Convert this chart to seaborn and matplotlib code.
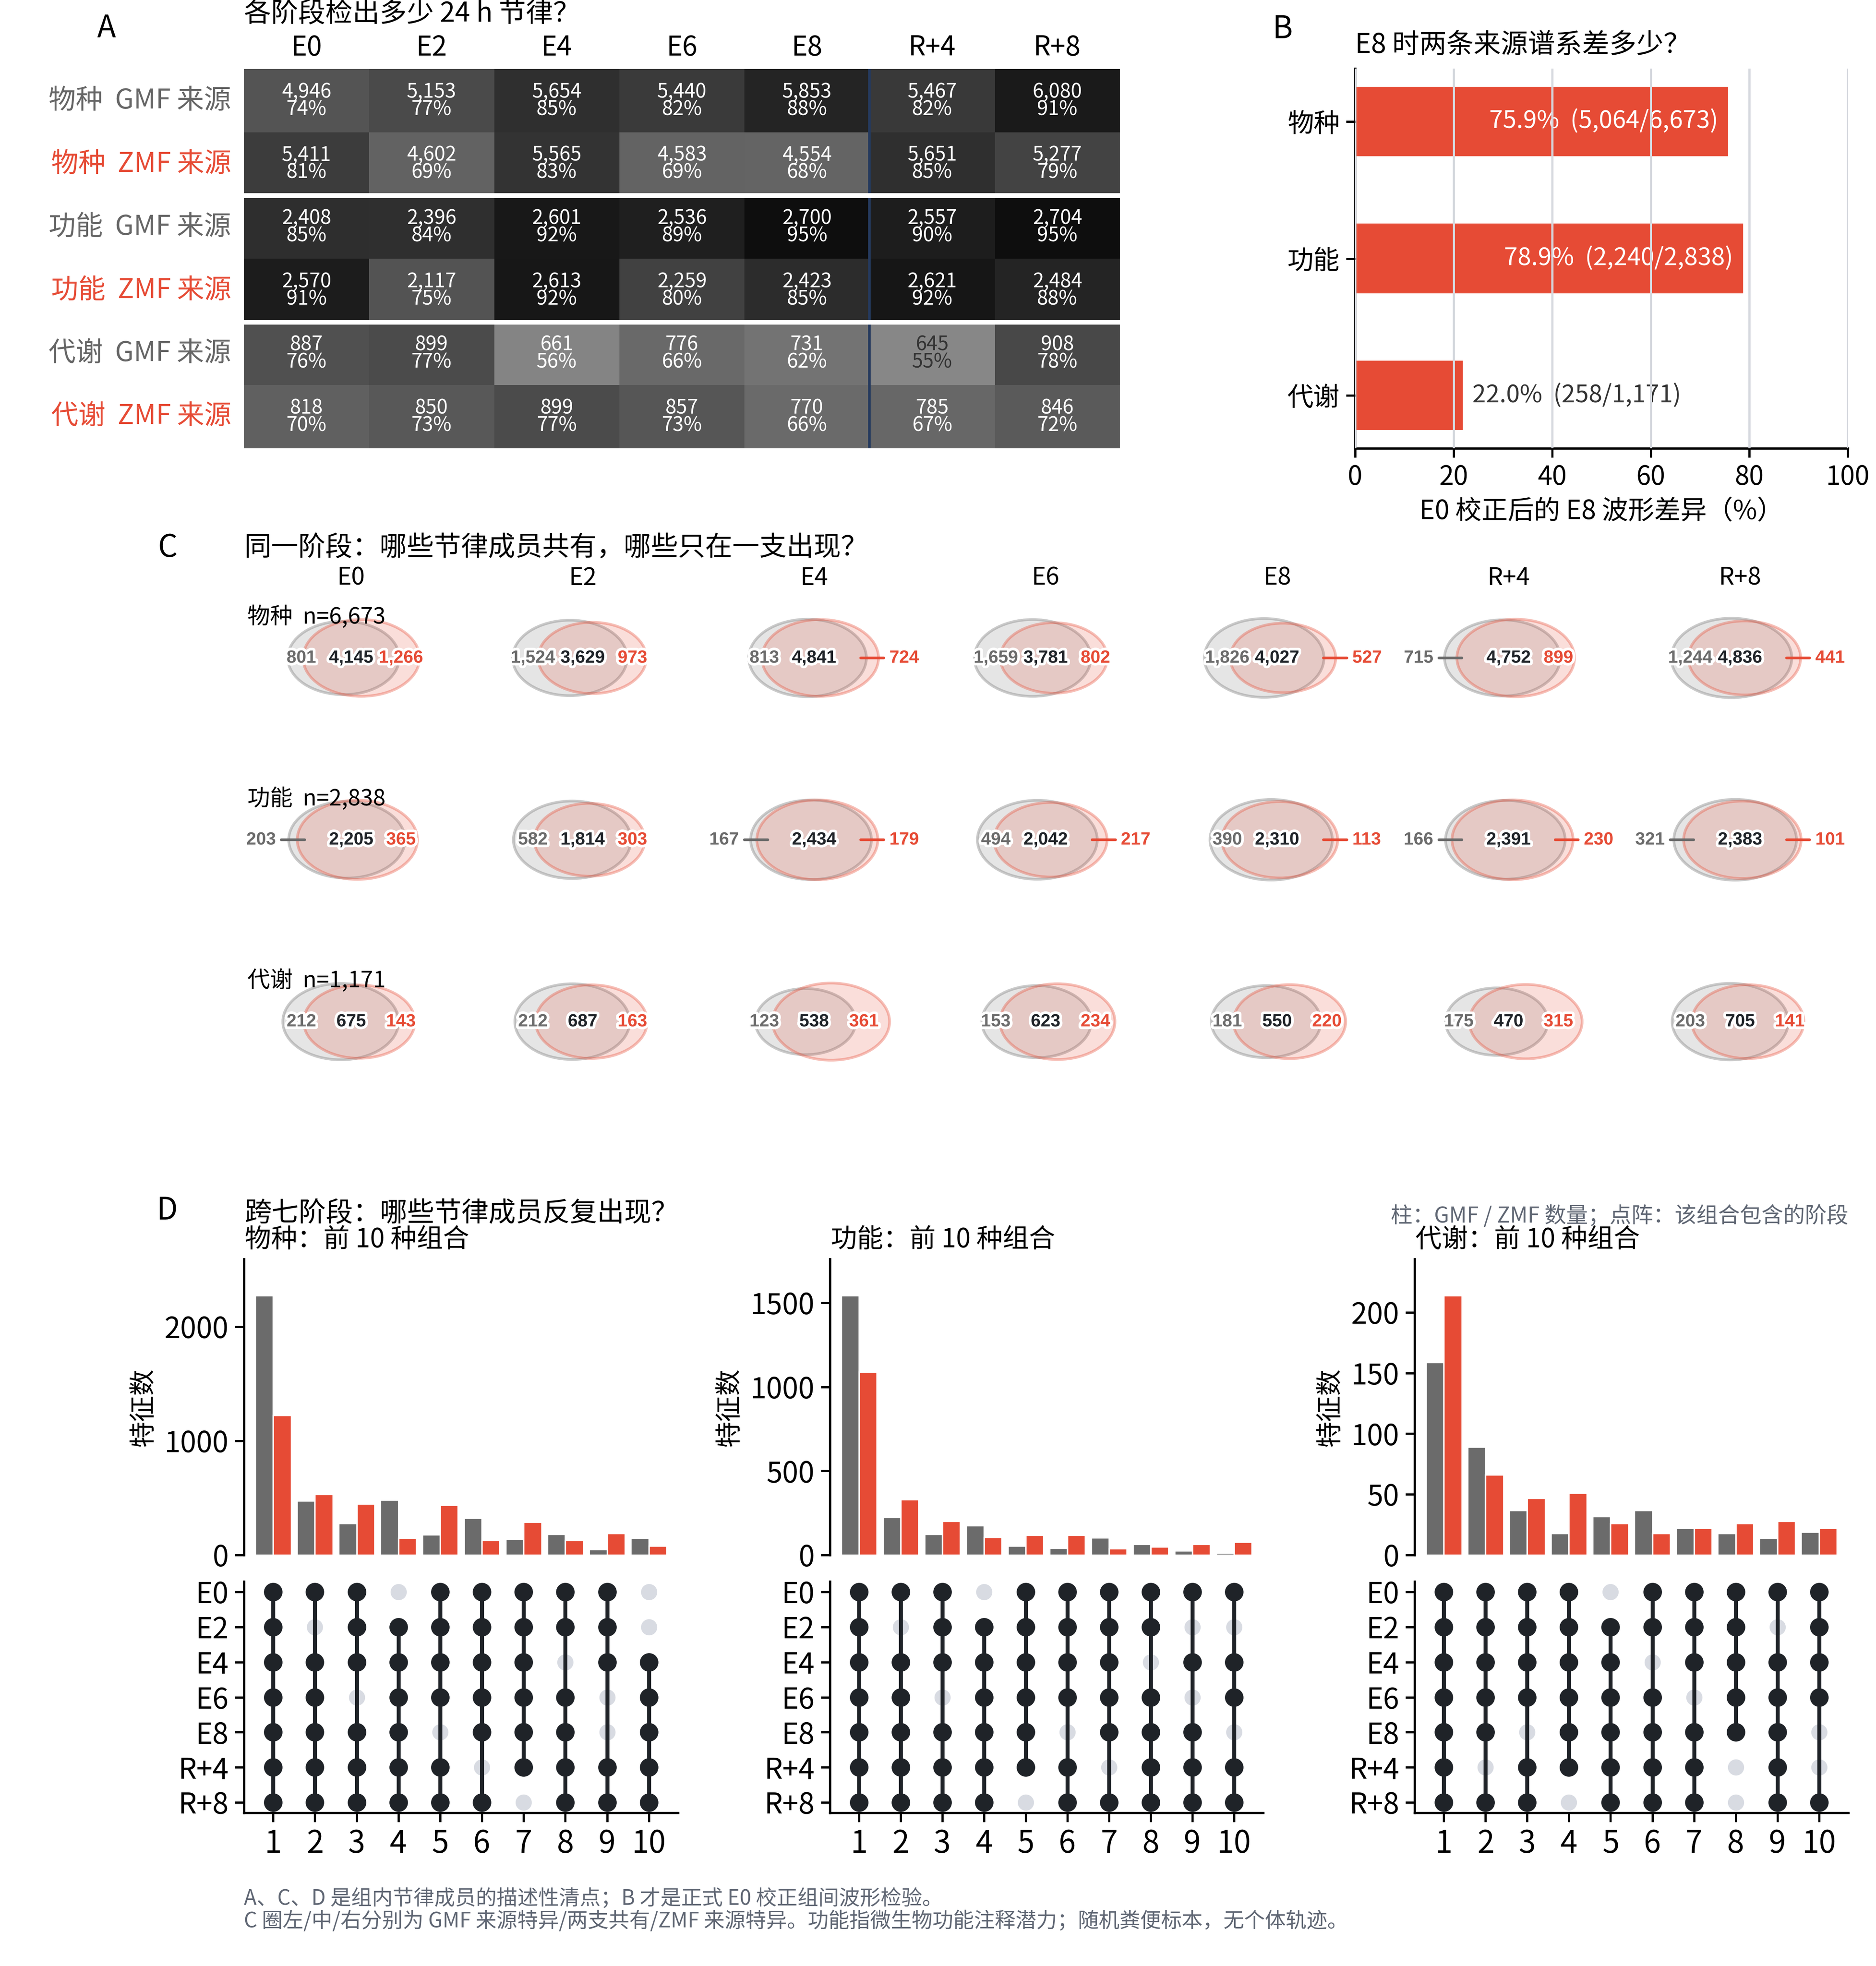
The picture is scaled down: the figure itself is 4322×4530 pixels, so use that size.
import math
import numpy as np
import pandas as pd
import matplotlib
matplotlib.use("Agg")
import matplotlib.pyplot as plt
import matplotlib.patheffects as pe
from matplotlib.patches import Circle
from matplotlib.ticker import MultipleLocator
import seaborn as sns

sns.set_theme(style="ticks", rc={"axes.edgecolor": "black", "xtick.color": "black",
                                 "ytick.color": "black", "text.color": "black",
                                 "axes.labelcolor": "black", "axes.linewidth": 1.3})
plt.rcParams["font.family"] = ["Noto Sans CJK SC", "DejaVu Sans"]
plt.rcParams["axes.unicode_minus"] = False

GRAY = "#6b6b6b"
RED = "#E64B35"
DARK = "#1f2328"
NOTE = "#5f6673"

stages = ["E0", "E2", "E4", "E6", "E8", "R+4", "R+8"]
groups = ["物种", "功能", "代谢"]
group_n = [6673, 2838, 1171]

# panel C: GMF only / shared / ZMF only, per stage
species_gmf_only = [801, 1524, 813, 1659, 1826, 715, 1244]
species_shared = [4145, 3629, 4841, 3781, 4027, 4752, 4836]
species_zmf_only = [1266, 973, 724, 802, 527, 899, 441]
function_gmf_only = [203, 582, 167, 494, 390, 166, 321]
function_shared = [2205, 1814, 2434, 2042, 2310, 2391, 2383]
function_zmf_only = [365, 303, 179, 217, 113, 230, 101]
metab_gmf_only = [212, 212, 123, 153, 181, 175, 203]
metab_shared = [675, 687, 538, 623, 550, 470, 705]
metab_zmf_only = [143, 163, 361, 234, 220, 315, 141]

# panel B
b_diff = [5064, 2240, 258]
b_total = [6673, 2838, 1171]

# panel D
combo_ids = list(range(1, 11))
species_combo_gmf = [2275, 475, 276, 482, 179, 323, 140, 183, 51, 148]
species_combo_zmf = [1226, 533, 447, 148, 436, 128, 288, 128, 191, 78]
function_combo_gmf = [1545, 225, 124, 175, 53, 42, 103, 64, 26, 13]
function_combo_zmf = [1090, 331, 201, 106, 119, 119, 40, 48, 64, 77]
metab_combo_gmf = [159, 89, 37, 18, 32, 37, 22, 18, 14, 19]
metab_combo_zmf = [214, 66, 47, 51, 26, 18, 22, 26, 28, 22]
# stages in each combination, order E0..R+8 (1 = included)
species_sets = ["1111111", "1011111", "1110111", "0111111", "1111011",
                "1111101", "1111110", "1101111", "1110011", "0011111"]
function_sets = ["1111111", "1011111", "1110111", "0111111", "1111110",
                 "1111011", "1111101", "1101111", "1010111", "1011011"]
metab_sets = ["1111111", "1111101", "1111011", "1111110", "0111111",
              "1101111", "1110111", "1111100", "1011111", "1111001"]

venn_data = [
    (species_gmf_only, species_shared, species_zmf_only),
    (function_gmf_only, function_shared, function_zmf_only),
    (metab_gmf_only, metab_shared, metab_zmf_only),
]
combo_data = [
    (species_combo_gmf, species_combo_zmf, species_sets, 1000),
    (function_combo_gmf, function_combo_zmf, function_sets, 500),
    (metab_combo_gmf, metab_combo_zmf, metab_sets, 50),
]

W, H, DPI = 4322, 4530, 300
fig = plt.figure(figsize=(W / DPI, H / DPI), dpi=DPI)


def box(x0, y0, x1, y1):
    return fig.add_axes([x0 / W, 1 - y1 / H, (x1 - x0) / W, (y1 - y0) / H])


def ftext(x, y, s, **kw):
    fig.text(x / W, 1 - y / H, s, **kw)


# ---------- A: heatmap ----------
counts, pcts, row_labels, row_colors = [], [], [], []
for g, n, (go, sh, zo) in zip(groups, group_n, venn_data):
    gmf = [a + b for a, b in zip(go, sh)]
    zmf = [a + b for a, b in zip(sh, zo)]
    counts += [gmf, zmf]
    pcts += [[v / n for v in gmf], [v / n for v in zmf]]
    row_labels += [g + "  GMF 来源", g + "  ZMF 来源"]
    row_colors += ["#666666", RED]
pct_df = pd.DataFrame(pcts, index=row_labels, columns=stages)

axA = box(562, 159, 2580, 1033)
sns.heatmap(pct_df, ax=axA, cmap="Greys", vmin=0, vmax=1, cbar=False)
for i in range(6):
    for j in range(7):
        p = pcts[i][j]
        axA.text(j + 0.5, i + 0.5, f"{counts[i][j]:,}\n{p:.0%}", ha="center", va="center",
                 fontsize=11, linespacing=0.78, color="#333333" if p < 0.56 else "white")
axA.axvline(5, color="#253a5e", lw=1.4, zorder=3)
axA.axhline(2, color="white", lw=2.6, zorder=4)
axA.axhline(4, color="white", lw=2.6, zorder=4)
axA.xaxis.tick_top()
axA.tick_params(length=0, labelsize=15)
axA.tick_params(axis="x", pad=4)
axA.tick_params(axis="y", pad=7)
axA.set_xlabel("")
axA.set_ylabel("")
for lab, c in zip(axA.get_yticklabels(), row_colors):
    lab.set_color(c)
    lab.set_rotation(0)
ftext(562, 32, "各阶段检出多少 24 h 节律？", fontsize=15, va="center", ha="left")
ftext(245, 66, "A", fontsize=17, va="center", ha="center")

# ---------- B: barh ----------
axB = box(3122, 158, 4257, 1033)
b_pct = [100 * a / b for a, b in zip(b_diff, b_total)]
sns.barplot(x=b_pct, y=groups, orient="h", color=RED, width=0.52, saturation=1, ax=axB)
axB.set_xlim(0, 100)
axB.set_ylim(2.386, -0.386)
axB.set_xticks(range(0, 101, 20))
axB.set_axisbelow(False)
axB.xaxis.grid(True, color="#d5d8de", lw=1.2)
for i, (p, a, b) in enumerate(zip(b_pct, b_diff, b_total)):
    s = f"{p:.1f}%  ({a:,}/{b:,})"
    if p > 50:
        axB.text(p - 2.2, i, s, ha="right", va="center", color="white", fontsize=13.5, zorder=2)
    else:
        axB.text(p + 1.8, i, s, ha="left", va="center", color="#333333", fontsize=13.5, zorder=2)
axB.tick_params(labelsize=14.5, length=5, width=1.2)
axB.set_xlabel("E0 校正后的 E8 波形差异（%）", fontsize=14.5, labelpad=4)
sns.despine(ax=axB)
ftext(3122, 104, "E8 时两条来源谱系差多少？", fontsize=15, va="center", ha="left")
ftext(2955, 68, "B", fontsize=17, va="center", ha="center")


# ---------- C: venn grid ----------
def overlap(r1, r2, d):
    if d >= r1 + r2:
        return 0.0
    if d <= abs(r1 - r2):
        return math.pi * min(r1, r2) ** 2
    a = r1 ** 2 * math.acos((d * d + r1 * r1 - r2 * r2) / (2 * d * r1))
    b = r2 ** 2 * math.acos((d * d + r2 * r2 - r1 * r1) / (2 * d * r2))
    c = 0.5 * math.sqrt((-d + r1 + r2) * (d + r1 - r2) * (d - r1 + r2) * (d + r1 + r2))
    return a + b - c


def solve_d(r1, r2, target):
    lo, hi = abs(r1 - r2), r1 + r2
    for _ in range(60):
        mid = (lo + hi) / 2
        if overlap(r1, r2, mid) > target:
            lo = mid
        else:
            hi = mid
    return (lo + hi) / 2


stroke = [pe.withStroke(linewidth=3, foreground="white")]
num_kw = dict(fontsize=9.8, fontweight="bold", family=["Liberation Sans", "DejaVu Sans"],
              va="center", path_effects=stroke)
col_x = [809 + 533.3 * j for j in range(7)]
row_y = [1516 + 419 * i for i in range(3)]
for i, (go_l, sh_l, zo_l) in enumerate(venn_data):
    for j in range(7):
        go, sh, zo = go_l[j], sh_l[j], zo_l[j]
        cx, cy = col_x[j], row_y[i]
        ax = box(cx - 266.7, cy - 209.5, cx + 266.7, cy + 209.5)
        ax.set_xlim(-1.046, 1.046)
        ax.set_ylim(-1.247, 1.247)
        ax.axis("off")
        union = go + sh + zo
        rg = math.sqrt((go + sh) / union / math.pi)
        rr = math.sqrt((sh + zo) / union / math.pi)
        d = solve_d(rg, rr, sh / union)
        cg = (rr - rg - d) / 2
        ax.add_patch(Circle((cg, 0), rg, fc=(0.6, 0.6, 0.6, 0.25), ec=(0.55, 0.55, 0.55, 0.45), lw=1.5))
        ax.add_patch(Circle((cg + d, 0), rr, fc=(230 / 255, 75 / 255, 53 / 255, 0.18),
                            ec=(230 / 255, 75 / 255, 53 / 255, 0.35), lw=1.5))
        ax.text(0, 0, f"{sh:,}", ha="center", color=DARK, **num_kw)
        if go / (go + sh) < 0.135:
            ax.plot([-0.63, -0.42], [0, 0], color=GRAY, lw=1.5)
            ax.text(-0.68, 0, f"{go:,}", ha="right", color=GRAY, **num_kw)
        else:
            ax.text(-0.45, 0, f"{go:,}", ha="center", color=GRAY, **num_kw)
        if zo / (zo + sh) < 0.135:
            ax.plot([0.42, 0.63], [0, 0], color=RED, lw=1.5)
            ax.text(0.68, 0, f"{zo:,}", ha="left", color=RED, **num_kw)
        else:
            ax.text(0.45, 0, f"{zo:,}", ha="center", color=RED, **num_kw)
        if i == 0:
            ax.text(0, 1.095, stages[j], ha="center", va="center", fontsize=13.5)
        if j == 0:
            ax.text(-0.937, 0.56, f"{groups[i]}  n={group_n[i]:,}", ha="left", va="center", fontsize=12.5)
ftext(562, 1263, "同一阶段：哪些节律成员共有，哪些只在一支出现？", fontsize=15, va="center", ha="left")
ftext(386, 1263, "C", fontsize=17, va="center", ha="center")

# ---------- D: upset-style ----------
d_left = [562, 1912, 3259]
d_right = [1562, 2910, 4258]
for k, (gmf, zmf, sets, step) in enumerate(combo_data):
    axb = box(d_left[k], 2901, d_right[k], 3583)
    df = pd.DataFrame({"combo": combo_ids * 2, "count": gmf + zmf,
                       "source": ["GMF"] * 10 + ["ZMF"] * 10})
    sns.barplot(data=df, x="combo", y="count", hue="source", palette=[GRAY, RED],
                width=0.86, edgecolor="white", linewidth=0.8, saturation=1, ax=axb, legend=False)
    axb.set_xlim(-0.7, 9.7)
    axb.set_ylim(0, max(gmf + zmf) * 1.14)
    axb.yaxis.set_major_locator(MultipleLocator(step))
    axb.set_xticks([])
    axb.set_xlabel("")
    axb.set_ylabel("特征数", fontsize=14.5)
    axb.tick_params(labelsize=16, length=5, width=1.2)
    sns.despine(ax=axb, bottom=True)
    ftext(d_left[k] + 2, 2857, f"{groups[k]}：前 10 种组合", fontsize=14.5, va="center", ha="left")

    axm = box(d_left[k], 3644, d_right[k], 4177)
    for j, s in enumerate(sets):
        on = [r for r, ch in enumerate(s) if ch == "1"]
        off = [r for r, ch in enumerate(s) if ch == "0"]
        axm.scatter([j] * len(off), off, s=80, color="#d8dbe2", zorder=1, linewidths=0)
        axm.vlines(j, min(on), max(on), color=DARK, lw=2.2, zorder=2)
        axm.scatter([j] * len(on), on, s=105, color=DARK, zorder=3, linewidths=0)
    axm.set_xlim(-0.7, 9.7)
    axm.set_ylim(6.3, -0.3)
    axm.set_yticks(range(7))
    axm.set_yticklabels(stages)
    axm.set_xticks(range(10))
    axm.set_xticklabels([str(c) for c in combo_ids])
    axm.tick_params(labelsize=16, length=5, width=1.2)
    axm.tick_params(axis="x", labelsize=17)
    sns.despine(ax=axm)

ftext(564, 2797, "跨七阶段：哪些节律成员反复出现？", fontsize=15, va="center", ha="left")
ftext(385, 2790, "D", fontsize=17, va="center", ha="center")
ftext(4258, 2803, "柱：GMF / ZMF 数量；点阵：该组合包含的阶段", fontsize=12, color=NOTE,
      va="center", ha="right")

ftext(562, 4375, "A、C、D 是组内节律成员的描述性清点；B 才是正式 E0 校正组间波形检验。",
      fontsize=11.5, color=NOTE, va="center", ha="left")
ftext(562, 4427, "C 圈左/中/右分别为 GMF 来源特异/两支共有/ZMF 来源特异。功能指微生物功能注释潜力；随机粪便标本，无个体轨迹。",
      fontsize=11.5, color=NOTE, va="center", ha="left")

fig.savefig("out.png", dpi=DPI)
